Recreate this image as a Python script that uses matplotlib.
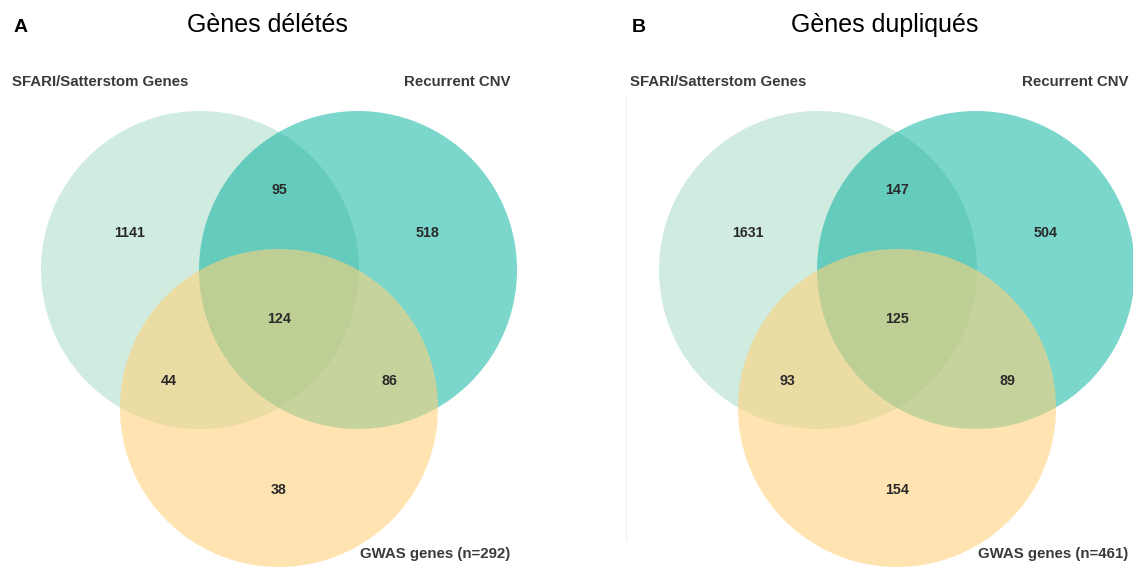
import matplotlib
matplotlib.use("Agg")
import matplotlib.pyplot as plt
from matplotlib.patches import Circle

plt.rcParams['font.family'] = ['Liberation Sans', 'DejaVu Sans']

# Venn data: only-SFARI, SFARI&CNV, only-CNV, all three, SFARI&GWAS, CNV&GWAS, only-GWAS
panel_letters = ["A", "B"]
panel_titles = ["Gènes délétés", "Gènes dupliqués"]
set_names = ["SFARI/Satterstom Genes", "Recurrent CNV", "GWAS genes"]
gwas_totals = [292, 461]
counts_deleted = [1141, 95, 518, 124, 44, 86, 38]
counts_duplicated = [1631, 147, 504, 125, 93, 89, 154]
panel_counts = [counts_deleted, counts_duplicated]

W, H = 1133, 568
fig = plt.figure(figsize=(W / 100, H / 100), dpi=100)
ax = fig.add_axes([0, 0, 1, 1])
ax.set_xlim(0, W)
ax.set_ylim(H, 0)
ax.set_aspect('equal')
ax.axis('off')

R = 159
col_sfari = "#d0ebdf"
col_cnv = "#06b2a0"
col_gwas = "#ffd27a"

# region label offsets relative to the panel's origin (pixels)
region_xy = [(130, 233), (279, 190), (428, 233), (279, 319),
             (169, 381), (389, 381), (279, 490)]

for i, counts in enumerate(panel_counts):
    dx = i * 618
    c1 = (200 + dx, 270)
    c2 = (358 + dx, 270)
    c3 = (279 + dx, 408)
    ax.add_patch(Circle(c1, R, facecolor=col_sfari, edgecolor='none', zorder=1))
    ax.add_patch(Circle(c2, R, facecolor=col_cnv, alpha=0.53, edgecolor='none', zorder=2))
    ax.add_patch(Circle(c3, R, facecolor=col_gwas, alpha=0.58, edgecolor='none', zorder=3))

    for (x, y), v in zip(region_xy, counts):
        ax.text(x + dx, y, str(v), ha='center', va='center', fontsize=10.3,
                fontweight='bold', color='#2a2a2a', zorder=5)

    ax.text(12 + dx, 82, set_names[0], ha='left', va='center', fontsize=10.8,
            fontweight='bold', color='#3a3a3a', zorder=5)
    ax.text(510 + dx, 82, set_names[1], ha='right', va='center', fontsize=10.8,
            fontweight='bold', color='#3a3a3a', zorder=5)
    ax.text(510 + dx, 554, f"{set_names[2]} (n={gwas_totals[i]})", ha='right',
            va='center', fontsize=10.8, fontweight='bold', color='#3a3a3a', zorder=5)

    ax.text(14 + dx, 27, panel_letters[i], ha='left', va='center', fontsize=14,
            fontweight='bold', color='black')
    ax.text(267 + dx, 25, panel_titles[i], ha='center', va='center', fontsize=18,
            color='black')

# faint separator between panels
ax.plot([626, 626], [95, 540], color='#f2f2f2', lw=1, zorder=0)

fig.savefig("out.png", dpi=100)
